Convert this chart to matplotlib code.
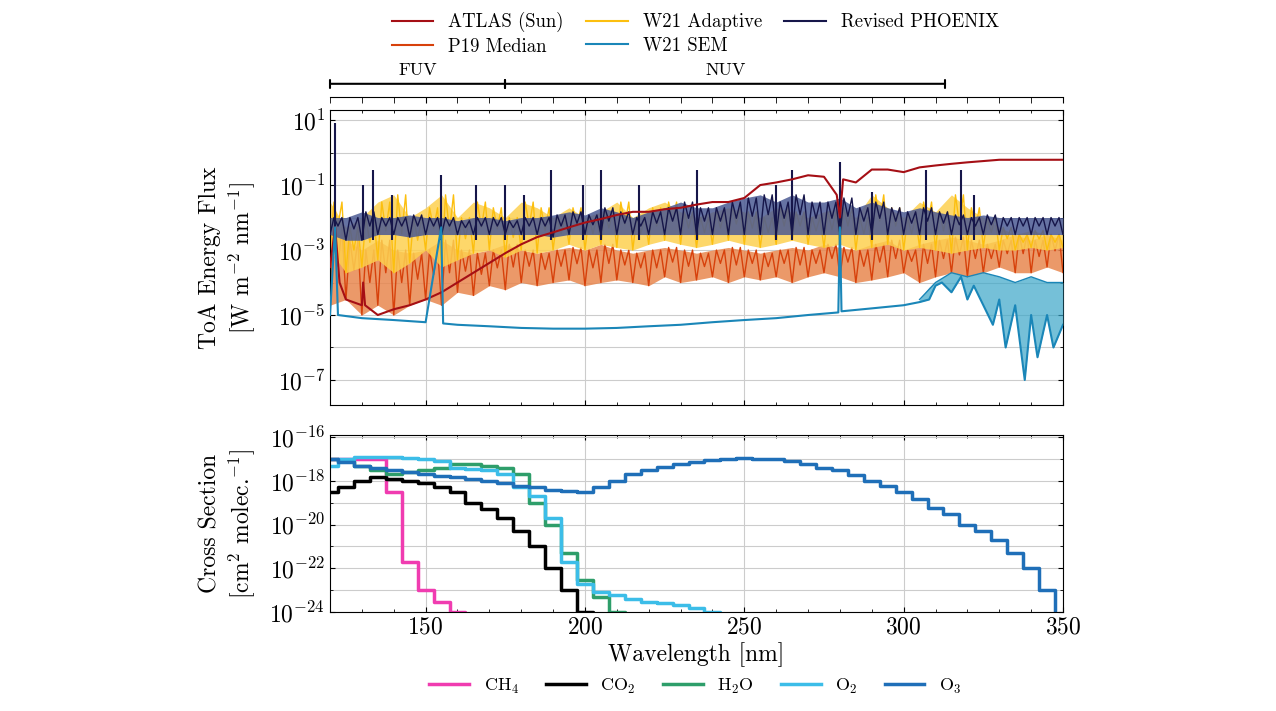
import numpy as np
import matplotlib
matplotlib.use("Agg")
import matplotlib.pyplot as plt
from matplotlib.ticker import LogLocator, NullFormatter, MultipleLocator, FixedLocator

plt.rcParams['font.family'] = ['cmr10', 'DejaVu Serif']
plt.rcParams['mathtext.fontset'] = 'cm'
plt.rcParams['axes.formatter.use_mathtext'] = True

# ---------------- data ----------------
wl5 = list(range(120, 351, 5))  # 47 points

atlas_wl = [120, 121.6, 123, 125, 130, 130.4, 131, 135, 140, 145, 150, 155, 160, 165, 170, 175, 180, 185, 190, 195,
            200, 205, 210, 215, 220, 225, 230, 235, 240, 245, 250, 255, 260, 265, 270, 275, 279, 280, 281, 285,
            290, 295, 300, 305, 310, 315, 320, 330, 340, 350]
atlas_val = [3e-4, 5e-3, 1e-4, 3e-5, 2e-5, 1e-4, 2e-5, 1e-5, 1.5e-5, 2e-5, 3e-5, 5e-5, 1e-4, 2e-4, 4e-4, 8e-4, 1.5e-3, 2.5e-3, 3.5e-3, 5e-3,
             7e-3, 9e-3, 1.2e-2, 1.5e-2, 1.5e-2, 1.8e-2, 2e-2, 2.5e-2, 3e-2, 3e-2, 4e-2, 1e-1, 1.2e-1, 1.5e-1, 2e-1, 1.8e-1, 5e-2, 1e-2, 1.5e-1, 1.2e-1,
             3e-1, 3e-1, 2.5e-1, 3.5e-1, 4e-1, 4.5e-1, 5e-1, 6e-1, 6e-1, 6e-1]

p19_lo = [2e-5, 3e-5, 1e-5, 2e-5, 1e-5, 2e-5, 3e-5, 2e-5, 5e-5, 4e-5, 8e-5, 6e-5, 1e-4, 8e-5, 1e-4, 1.2e-4, 8e-5, 1e-4, 1.2e-4, 1e-4,
          8e-5, 1.5e-4, 1e-4, 1.2e-4, 1.5e-4, 1e-4, 1.5e-4, 1.2e-4, 1.5e-4, 1e-4, 1.5e-4, 2e-4, 1.5e-4, 1e-4, 1.2e-4, 1.5e-4, 2e-4, 1e-4, 1.5e-4, 2e-4,
          1.5e-4, 2e-4, 3e-4, 2e-4, 2e-4, 3e-4, 2e-4]
p19_hi = [5e-3, 2e-3, 1e-3, 2e-3, 1e-3, 8e-4, 1e-3, 2e-3, 1e-3, 8e-4, 1e-3, 1.5e-3, 1e-3, 8e-4, 1e-3, 1.2e-3, 1e-3, 1.5e-3, 1e-3, 8e-4,
          1e-3, 1.2e-3, 1e-3, 8e-4, 1e-3, 1.2e-3, 1e-3, 8e-4, 1e-3, 1.2e-3, 1e-3, 1.5e-3, 1.2e-3, 1e-3, 1.5e-3, 2e-3, 1e-3, 1.5e-3, 2e-3, 2.5e-3,
          2e-3, 1.5e-3, 2e-3, 3e-3, 2e-3, 3e-3, 2e-3]

w21a_lo = [1e-3, 2e-4, 3e-4, 5e-4, 2e-4, 4e-4, 1e-3, 3e-4, 5e-4, 8e-4, 1e-3, 6e-4, 1e-3, 8e-4, 1e-3, 1.5e-3, 1e-3, 1.5e-3, 1.2e-3, 1e-3,
           1.5e-3, 2e-3, 1.5e-3, 1.2e-3, 1.5e-3, 2e-3, 1.5e-3, 1.2e-3, 1.5e-3, 2e-3, 1.5e-3, 1.2e-3, 1.5e-3, 1e-3, 1.2e-3, 1.5e-3, 1e-3, 1.2e-3, 1e-3, 8e-4,
           1e-3, 1.2e-3, 1e-3, 1e-3, 1.2e-3, 1e-3, 1.2e-3]
w21a_hi = [3e-2, 5e-3, 1e-2, 3e-2, 5e-2, 1e-2, 2e-2, 5e-2, 1e-2, 3e-2, 2e-2, 1e-2, 3e-2, 2e-2, 1e-2, 2e-2, 1e-2, 1.5e-2, 3e-2, 1e-2,
           2e-2, 3e-2, 1.5e-2, 1e-2, 1.5e-2, 2e-2, 1.5e-2, 1e-2, 2e-2, 1.5e-2, 1e-2, 1.5e-2, 2e-2, 1e-2, 5e-2, 2e-2, 1e-2, 3e-2, 1.5e-2, 5e-2,
           2e-2, 1e-2, 5e-3, 3e-3, 4e-3, 3e-3, 3e-3]

phx_lo = [3e-3, 2e-3, 2e-3, 3e-3, 3e-3, 2.5e-3, 3e-3, 3e-3, 3e-3, 3e-3, 3e-3, 3e-3, 3e-3, 3e-3, 2.5e-3, 3e-3, 3e-3, 3e-3, 3e-3, 3e-3,
          3e-3, 3e-3, 3e-3, 3e-3, 3e-3, 3e-3, 3e-3, 3e-3, 3e-3, 3e-3, 3e-3, 3e-3, 3e-3, 3e-3, 3e-3, 3e-3, 3e-3, 3e-3, 3e-3, 3e-3,
          3e-3, 3e-3, 3e-3, 3e-3, 3e-3, 3e-3, 3e-3]
phx_hi = [1e-2, 1e-2, 1.5e-2, 1e-2, 1e-2, 1.2e-2, 1e-2, 1e-2, 8e-3, 1e-2, 1e-2, 8e-3, 1e-2, 1e-2, 1.2e-2, 1.5e-2, 1.2e-2, 2e-2, 1.5e-2, 1e-2,
          1.5e-2, 2e-2, 3e-2, 2e-2, 2e-2, 3e-2, 4e-2, 5e-2, 3e-2, 5e-2, 3e-2, 3e-2, 4e-2, 2e-2, 3e-2, 2e-2, 1.5e-2, 2e-2, 1.5e-2, 1.2e-2,
          1e-2, 1.2e-2, 1e-2, 1e-2, 1e-2, 1e-2, 1e-2]

phx_spike_wl = [121.6, 130.4, 133.5, 139.4, 154.9, 165.7, 174.9, 181, 189.5, 199.5, 205, 217, 235, 260, 265, 280, 290, 307, 318, 322]
phx_spike_val = [8, 0.1, 0.3, 0.05, 0.2, 0.1, 0.1, 0.05, 0.3, 0.1, 0.3, 0.1, 0.3, 0.1, 0.3, 0.5, 0.06, 0.3, 0.3, 0.05]

sem_wl = [120, 121.6, 122.5, 130, 140, 150, 154.9, 155.5, 160, 170, 180, 190, 200, 210, 220, 230, 240, 250, 260, 270,
          279.5, 280, 280.5, 290, 300, 305, 308, 310, 312, 315, 318, 320, 322, 325, 328, 330, 332, 335, 338, 340, 342, 345, 347, 350]
sem_val = [1e-5, 5e-3, 1e-5, 8e-6, 7e-6, 6e-6, 5e-3, 5.5e-6, 5e-6, 4.5e-6, 4e-6, 3.8e-6, 3.8e-6, 4e-6, 4.5e-6, 5e-6, 6e-6, 7e-6, 8e-6, 1e-5,
           1.2e-5, 5e-3, 1.3e-5, 1.6e-5, 2e-5, 2.5e-5, 3e-5, 8e-5, 1e-4, 5e-5, 1.5e-4, 3e-5, 8e-5, 2e-5, 5e-6, 3e-5, 1e-6, 2e-5, 1e-7, 1e-5, 5e-7, 1e-5, 1e-6, 5e-6]
sem_hi_wl = [305, 310, 315, 320, 325, 330, 335, 340, 345, 350]
sem_hi = [3e-5, 1e-4, 2e-4, 1.5e-4, 2e-4, 1.5e-4, 1e-4, 1.5e-4, 1e-4, 1e-4]

xs_wl = list(range(120, 351, 5))
ch4 = [1e-17, 1e-17, 1e-17, 1e-17, 3e-19, 2e-22, 1e-23, 3e-24, 1e-24, 1e-30] + [1e-30] * 37
co2 = [3e-19, 5e-19, 1e-18, 1.5e-18, 1.2e-18, 1e-18, 8e-19, 5e-19, 3e-19, 1e-19, 5e-20, 2e-20, 5e-21, 1e-21, 1e-22, 1e-23, 1e-24, 1e-30] + [1e-30] * 29
h2o = [1e-17, 8e-18, 5e-18, 3e-18, 2e-18, 2.5e-18, 3e-18, 4e-18, 6e-18, 6e-18, 5e-18, 4e-18, 2e-18, 1e-19, 1e-20, 5e-22, 3e-23, 5e-24, 1e-24, 1e-30] + [1e-30] * 27
o2 = [5e-18, 1e-17, 1.3e-17, 1.3e-17, 1.2e-17, 1.1e-17, 1e-17, 8e-18, 4e-18, 3.5e-18, 3e-18, 2e-18, 5e-19, 2e-19, 2e-20, 2e-22, 2e-23, 8e-24, 6e-24,
      4e-24, 3e-24, 2.5e-24, 2e-24, 1.5e-24, 1e-24, 1e-30] + [1e-30] * 21
o3 = [1e-17, 7e-18, 5e-18, 4e-18, 3e-18, 2.5e-18, 2e-18, 1.7e-18, 1.5e-18, 1.2e-18, 1e-18, 8e-19, 6e-19, 5e-19, 4e-19, 3.5e-19, 3e-19, 5e-19,
      1e-18, 2e-18, 3e-18, 4.5e-18, 6e-18, 7.5e-18, 9e-18, 1e-17, 1.1e-17, 1.05e-17, 1e-17, 8e-18, 6e-18, 4e-18, 3e-18, 1.8e-18, 1e-18, 6e-19,
      3e-19, 1.5e-19, 6e-20, 3e-20, 1e-20, 5e-21, 2e-21, 5e-22, 1e-22, 1e-23, 1e-30]

top_yticks = [1e1, 1e-1, 1e-3, 1e-5, 1e-7]
bot_yticks = [1e-16, 1e-18, 1e-20, 1e-22, 1e-24]

# ---------------- figure ----------------
fig = plt.figure(figsize=(12.76, 7.11), dpi=100)
L, Wd = 330 / 1276, 733 / 1276
ax1 = fig.add_axes([L, 1 - 405 / 711, Wd, 295 / 711])
ax2 = fig.add_axes([L, 1 - 612 / 711, Wd, 177 / 711])
ax0 = fig.add_axes([L, 1 - 97 / 711, Wd, 22 / 711])

c_atlas, c_p19, c_w21a, c_sem, c_phx = '#a50f15', '#d7410b', '#fcbf0f', '#1a86b8', '#16164a'

def zig(lo, hi):
    x, y = [], []
    for w, a, b in zip(wl5, lo, hi):
        x += [w, w + 1.25, w + 2.5, w + 3.75]
        y += [a, b, (a * b) ** 0.5, b]
    return x, y

ax1.fill_between(wl5, p19_lo, p19_hi, color='#e8874f', alpha=0.85, lw=0, zorder=1)
x, y = zig(p19_lo, p19_hi); ax1.plot(x, y, color=c_p19, lw=1.0, zorder=1.5)
ax1.fill_between(wl5, w21a_lo, w21a_hi, color='#fdd050', alpha=0.85, lw=0, zorder=2)
x, y = zig(w21a_lo, w21a_hi); ax1.plot(x, y, color=c_w21a, lw=1.0, zorder=2.5)
ax1.fill_between(wl5, phx_lo, phx_hi, color='#4b5a93', alpha=0.85, lw=0, zorder=3)
x, y = zig(phx_lo, phx_hi); ax1.plot(x, y, color=c_phx, lw=1.0, zorder=3.5)
ax1.vlines(phx_spike_wl, [2e-3] * len(phx_spike_wl), phx_spike_val, color=c_phx, lw=1.5, zorder=3.6)
ax1.plot(atlas_wl, atlas_val, color=c_atlas, lw=1.5, zorder=4)
ax1.fill_between(sem_wl, sem_val, np.interp(sem_wl, sem_hi_wl, sem_hi),
                 where=np.array(sem_wl) >= 305, color='#3aa6c8', alpha=0.7, lw=0, zorder=4.5)
ax1.plot(sem_wl, sem_val, color=c_sem, lw=1.5, zorder=5)
ax1.plot(sem_hi_wl, sem_hi, color=c_sem, lw=1.0, zorder=5)

ax1.set_yscale('log')
ax1.set_ylim(10 ** -7.77, 10 ** 1.31)
ax1.yaxis.set_major_locator(FixedLocator(top_yticks))
ax1.yaxis.set_minor_locator(LogLocator(base=10.0, numticks=20))
ax1.yaxis.set_minor_formatter(NullFormatter())
ax1.set_ylabel('ToA Energy Flux\n[W m$^{-2}$ nm$^{-1}$]', fontsize=17)
ax1.yaxis.set_label_coords(-0.10, 0.5)

for s, c, lab in [(ch4, '#f03cb0', 'CH$_4$'), (co2, 'black', 'CO$_2$'), (h2o, '#2e9e6a', 'H$_2$O'),
                  (o2, '#3cbde8', 'O$_2$'), (o3, '#1f6fb8', 'O$_3$')]:
    ax2.step(xs_wl, s, where='mid', color=c, lw=2.5, label=lab)
ax2.set_yscale('log')
ax2.set_ylim(1e-24, 10 ** -15.9)
ax2.yaxis.set_major_locator(FixedLocator(bot_yticks))
ax2.yaxis.set_minor_locator(LogLocator(base=10.0, numticks=20))
ax2.yaxis.set_minor_formatter(NullFormatter())
ax2.set_ylabel('Cross Section\n[cm$^2$ molec.$^{-1}$]', fontsize=17)
ax2.yaxis.set_label_coords(-0.10, 0.5)
ax2.set_xlabel('Wavelength [nm]', fontsize=17, labelpad=2)

for a in (ax1, ax2):
    a.set_xlim(120, 350)
    a.xaxis.set_major_locator(MultipleLocator(50))
    a.xaxis.set_minor_locator(MultipleLocator(10))
    a.grid(True, which='major', color='#cccccc', lw=0.8)
    a.grid(True, which='minor', axis='y', color='#cccccc', lw=0.8)
    a.tick_params(which='both', direction='in', top=True, right=True, labelsize=17)
    a.set_axisbelow(True)
ax1.tick_params(labelbottom=False)

ax0.set_xlim(120, 350)
ax0.set_ylim(0, 1)
for sp in ('top', 'left', 'right'):
    ax0.spines[sp].set_visible(False)
ax0.set_yticks([])
ax0.xaxis.set_major_locator(MultipleLocator(50))
ax0.xaxis.set_minor_locator(MultipleLocator(10))
ax0.tick_params(which='both', direction='out', labelbottom=False, length=4)
ax0.patch.set_alpha(0)
bands = [(120, 175, 'FUV'), (175, 313, 'NUV')]
for a, b, t in bands:
    ax0.annotate('', xy=(a, 0.6), xytext=(b, 0.6),
                 arrowprops=dict(arrowstyle='|-|', lw=1.5, mutation_scale=3, shrinkA=0, shrinkB=0))
    ax0.text((a + b) / 2, 0.85, t, ha='center', va='bottom', fontsize=13)

h1 = [plt.Line2D([], [], color=c, lw=1.5) for c in (c_atlas, c_p19, c_w21a, c_sem, c_phx)]
fig.legend(h1, ['ATLAS (Sun)', 'P19 Median', 'W21 Adaptive', 'W21 SEM', 'Revised PHOENIX'],
           loc='center', bbox_to_anchor=(0.545, 0.952), ncol=3, frameon=False, fontsize=13.5,
           handlelength=2.2, columnspacing=1.2, labelspacing=0.3)
fig.legend(*ax2.get_legend_handles_labels(), loc='center', bbox_to_anchor=(0.545, 0.035), ncol=5,
           frameon=False, fontsize=13, handlelength=2.2, columnspacing=1.5)

fig.savefig('out.png', dpi=100)
